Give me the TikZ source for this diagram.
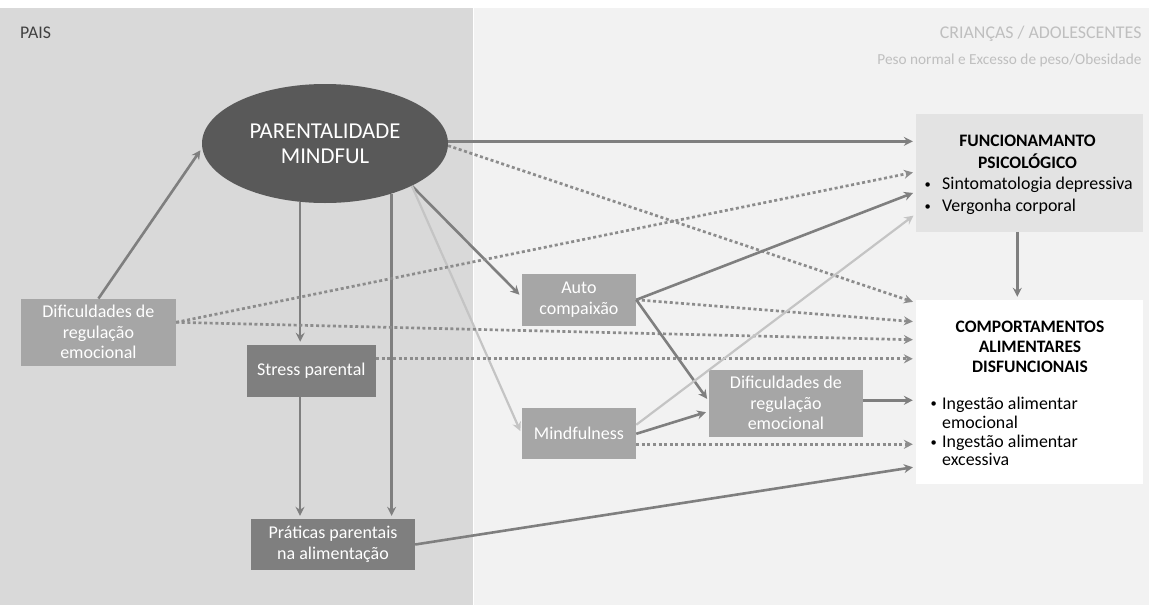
\documentclass[tikz,border=0pt]{standalone}
\usepackage{fontspec}
\setmainfont{Carlito}
\usetikzlibrary{shapes.geometric,arrows.meta,calc}
\definecolor{leftbg}{HTML}{D9D9D9}
\definecolor{rightbg}{HTML}{F2F2F2}
\definecolor{ellfill}{HTML}{595959}
\definecolor{boxlight}{HTML}{A6A6A6}
\definecolor{boxdark}{HTML}{7F7F7F}
\definecolor{funcfill}{HTML}{E3E3E3}
\definecolor{arrgray}{HTML}{7F7F7F}
\definecolor{dotgray}{HTML}{8C8C8C}
\definecolor{lightarr}{HTML}{C4C4C4}
\definecolor{titlegray}{HTML}{BFBFBF}
\definecolor{paisgray}{HTML}{404040}
\newcommand{\bul}{\raisebox{0.15ex}{\scalebox{0.7}{•}}}
\begin{document}
\begin{tikzpicture}[x=1pt,y=-1pt,
  box/.style={rectangle, inner sep=0pt, text=white, align=center, font=\fontsize{18}{20.5}\selectfont},
  lightbox/.style={box, fill=boxlight},
  darkbox/.style={box, fill=boxdark},
  tip/.style={-{Stealth[length=9pt,width=9pt,inset=3pt]}, shorten >=3pt},
  solidarr/.style={draw=arrgray, line width=2.6pt, tip},
  dotarr/.style={draw=dotgray, line width=2.7pt, dash pattern=on 3pt off 2.6pt, tip},
  lightarr/.style={draw=lightarr, line width=2.2pt, tip},
  bodytxt/.style={inner sep=0pt, text=black, font=\fontsize{17.9}{20}\selectfont},
  headtxt/.style={inner sep=0pt, text=black, font=\bfseries\fontsize{17.5}{20}\selectfont},
]
\useasboundingbox (0,0) rectangle (1149,605);
\fill[leftbg] (0,8) rectangle (472.8,605);
\fill[rightbg] (473.8,8) rectangle (1149,605);

% headers
\node[anchor=base west, inner sep=0pt, text=paisgray, font=\fontsize{17.8}{20}\selectfont] (pais) at (20,38.3) {PAIS};
\node[anchor=base east, inner sep=0pt, text=titlegray, font=\fontsize{17.9}{20}\selectfont] (crian) at (1141.7,38.3) {CRIANÇAS / ADOLESCENTES};
\node[anchor=base east, inner sep=0pt, text=titlegray, font=\fontsize{15.3}{17}\selectfont] (peso) at (1141.7,64) {Peso normal e Excesso de peso/Obesidade};

% main nodes
\node[ellipse, fill=ellfill, inner sep=0pt, minimum width=246pt, minimum height=119pt, text=white, align=center, font=\fontsize{22.7}{25}\selectfont] (ell) at (325,143.5) {PARENTALIDADE\\MINDFUL};
\node[lightbox, minimum width=155pt, minimum height=67pt] (difL) at (98.4,332.3) {Dificuldades de\\regulação\\emocional};
\node[darkbox, minimum width=129.3pt, minimum height=51.7pt] (stress) at (311.3,370.8) {Stress parental};
\node[darkbox, minimum width=164pt, minimum height=51pt] (prat) at (333,544.5) {Práticas parentais\\na alimentação};
\node[lightbox, minimum width=114.3pt, minimum height=51.7pt] (auto) at (578.9,299.8) {Auto\\compaixão};
\node[lightbox, minimum width=114.3pt, minimum height=51pt] (mind) at (578.9,433.8) {Mindfulness};
\node[lightbox, minimum width=153.7pt, minimum height=66.7pt] (difM) at (785.9,403.3) {Dificuldades de\\regulação\\emocional};
\node[rectangle, fill=funcfill, inner sep=0pt, minimum width=227.3pt, minimum height=117.7pt] (func) at (1029.7,172.9) {};
\node[rectangle, fill=white, inner sep=0pt, minimum width=227.3pt, minimum height=184pt] (comp) at (1029.7,392) {};

% func texts
\node[headtxt, anchor=base] (ft1) at (1027.5,146.5) {FUNCIONAMANTO};
\node[headtxt, anchor=base] (ft2) at (1027.5,168) {PSICOLÓGICO};
\node[bodytxt, anchor=base west] (fb1) at (924.5,189.5) {\makebox[17.5pt][l]{\bul}Sintomatologia depressiva};
\node[bodytxt, anchor=base west] (fb2) at (924.5,211.5) {\makebox[17.5pt][l]{\bul}Vergonha corporal};

% comp texts
\node[headtxt, anchor=base] (ct1) at (1030,332.5) {COMPORTAMENTOS};
\node[headtxt, anchor=base] (ct2) at (1030,352.5) {ALIMENTARES};
\node[headtxt, anchor=base] (ct3) at (1030,372.5) {DISFUNCIONAIS};
\node[bodytxt, anchor=base west] (cb1) at (930.5,409) {\makebox[11.5pt][l]{\bul}Ingestão alimentar};
\node[bodytxt, anchor=base west] (cb2) at (942,428) {emocional};
\node[bodytxt, anchor=base west] (cb3) at (930.5,447.5) {\makebox[11.5pt][l]{\bul}Ingestão alimentar};
\node[bodytxt, anchor=base west] (cb4) at (942,465) {excessiva};

% connectors
\draw[solidarr] (difL.north) -- (ell.182);
\draw[solidarr] (ell.1) -- (func.west |- ell.1);
\draw[dotarr] (ell.-1.5) -- ([yshift=-3pt]comp.north west);
\draw[solidarr] (ell.-26) -- ([yshift=3pt]auto.west);
\draw[lightarr] (ell.-26) -- (mind.west);
\draw[solidarr] (ell.-113) -- (ell.-113 |- stress.north);
\draw[solidarr] (ell.-37.3) -- (ell.-37.3 |- prat.north);
\draw[solidarr] ([xshift=-11.3pt]stress.south) -- ([xshift=-11.3pt]stress.south |- prat.north);

\draw[dotarr] ([yshift=10pt]difL.east) -- ([yshift=-58pt]func.north west);
\draw[dotarr] ([yshift=10pt]difL.east) -- ([yshift=-40pt]comp.north west);
\draw[dotarr] ([yshift=12pt]stress.east) -- ([yshift=12pt]stress.east -| comp.west);

\draw[solidarr] (auto.east) -- ([yshift=-78pt]func.north west);
\draw[dotarr] (auto.east) -- ([yshift=-22pt]comp.north west);
\draw[solidarr] (auto.east) -- ([yshift=2pt]difM.west);

\draw[lightarr] ([yshift=9pt]mind.east) -- ([yshift=-100pt]func.north west);
\draw[solidarr] (mind.east) -- ([yshift=-8pt]difM.west);
\draw[dotarr] ([yshift=-10.5pt]mind.east) -- ([yshift=-10.5pt]mind.east -| comp.west);

\draw[solidarr] ([yshift=3pt]difM.east) -- ([yshift=3pt]difM.east -| comp.west);
\draw[solidarr] (prat.east) -- ([yshift=-167pt]comp.north west);
\draw[solidarr] ([xshift=-12.4pt]func.south) -- ([xshift=-12.4pt]func.south |- comp.north);
\end{tikzpicture}
\end{document}
